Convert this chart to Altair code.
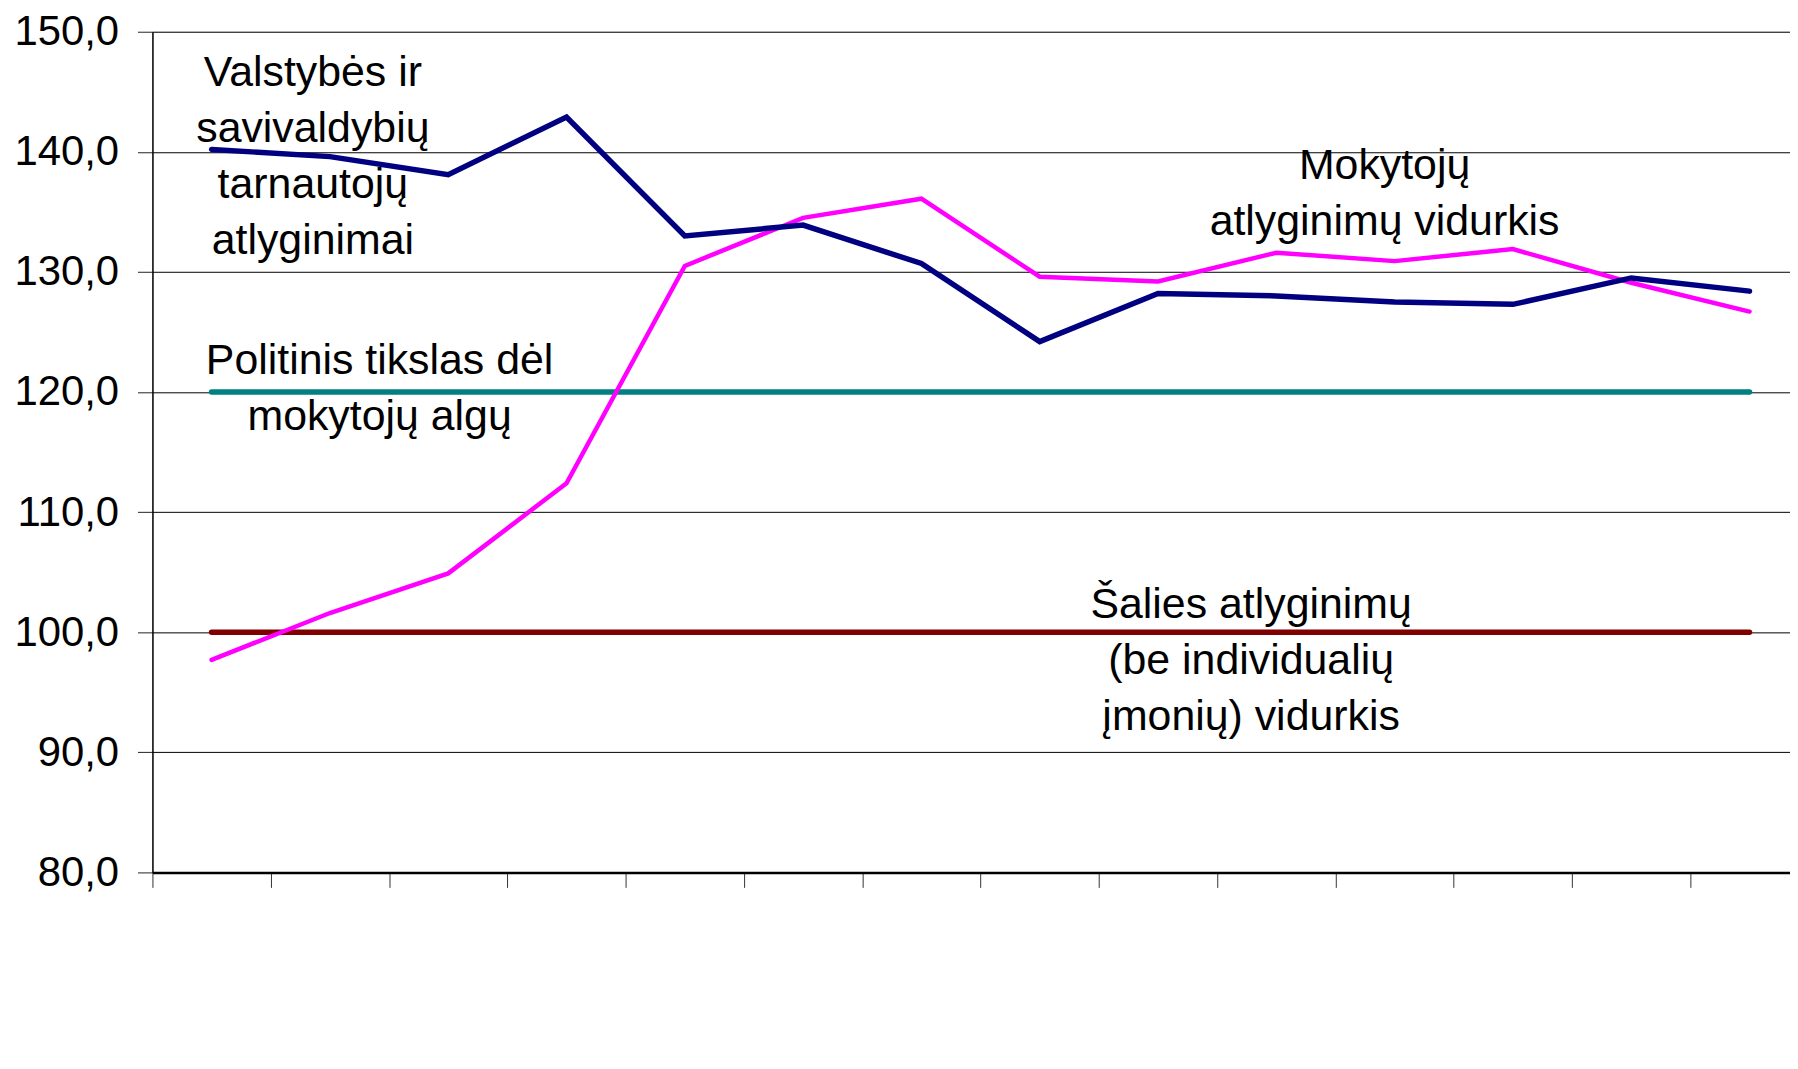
import altair as alt
import pandas as pd

# category index (14 periods, unlabeled in the reference)
periods = [1, 2, 3, 4, 5, 6, 7, 8, 9, 10, 11, 12, 13, 14]
valstybes = [140.2, 139.6, 138.1, 142.9, 133.0, 133.9, 130.7, 124.2, 128.2, 128.0, 127.5, 127.3, 129.5, 128.4]
mokytoju = [97.7, 101.6, 104.9, 112.4, 130.5, 134.5, 136.1, 129.6, 129.2, 131.6, 130.9, 131.9, 129.1, 126.7]
tikslas = [120.0, 120.0, 120.0, 120.0, 120.0, 120.0, 120.0, 120.0, 120.0, 120.0, 120.0, 120.0, 120.0, 120.0]
salies = [100.0, 100.0, 100.0, 100.0, 100.0, 100.0, 100.0, 100.0, 100.0, 100.0, 100.0, 100.0, 100.0, 100.0]

series_names = ["Šalies", "Tikslas", "Mokytojų", "Valstybės"]
series_colors = ["#800000", "#008080", "#FF00FF", "#000080"]
series_widths = [5.5, 5.5, 4.5, 5.5]

ann_text = [
    "Valstybės ir\nsavivaldybių\ntarnautojų\natlyginimai",
    "Politinis tikslas dėl\nmokytojų algų",
    "Mokytojų\natlyginimų vidurkis",
    "Šalies atlyginimų\n(be individualių\nįmonių) vidurkis",
]
ann_x = [1.356, 1.92, 10.415, 9.287]
ann_y = [145.44, 121.5, 137.73, 101.15]

rows = []
for name, vals in zip(series_names, [salies, tikslas, mokytoju, valstybes]):
    for p, v in zip(periods, vals):
        rows.append({"series": name, "period": p, "value": v})
df = pd.DataFrame(rows)
ann = pd.DataFrame({"text": ann_text, "x": ann_x, "y": ann_y})

W = 1644
H = 844
XMAX = 13.842

xscale = alt.Scale(domain=[0, XMAX], nice=False, zero=False)
yscale = alt.Scale(domain=[80, 150], nice=False, zero=False)

xaxis = alt.Axis(values=list(range(0, 14)), labels=False, title=None, grid=False,
                 tickColor="#333333", tickSize=15, tickWidth=1,
                 domainColor="#000000", domainWidth=2.5)
yaxis = alt.Axis(values=[80, 90, 100, 110, 120, 130, 140, 150], title=None,
                 labelExpr="replace(format(datum.value, '.1f'), '.', ',')",
                 labelFont="Liberation Sans", labelFontSize=42, labelColor="#000000",
                 labelPadding=19, tickSize=15, tickColor="#222222", tickWidth=1,
                 domainColor="#000000", domainWidth=1.5,
                 grid=True, gridColor="#000000", gridWidth=1)

base = alt.Chart(df).transform_calculate(xpos="datum.period - 0.5")

layers = []
for name, col, sw in zip(series_names, series_colors, series_widths):
    layers.append(
        base.transform_filter(alt.datum.series == name)
        .mark_line(color=col, strokeWidth=sw, strokeCap="round", strokeJoin="miter")
        .encode(x=alt.X("xpos:Q", scale=xscale, axis=xaxis),
                y=alt.Y("value:Q", scale=yscale, axis=yaxis),
                order="period:Q")
    )

text_layer = alt.Chart(ann).mark_text(
    font="Liberation Sans", fontSize=43, color="#000000", align="center",
    baseline="alphabetic", lineBreak="\n", lineHeight=56,
).encode(x=alt.X("x:Q", scale=xscale, axis=xaxis),
         y=alt.Y("y:Q", scale=yscale, axis=yaxis), text="text:N")

chart = alt.layer(*layers, text_layer).properties(
    width=W, height=H,
    autosize=alt.AutoSizeParams(type="none"),
    padding={"left": 145, "top": 22, "right": 0, "bottom": 60},
).configure_view(strokeWidth=0, stroke="transparent").configure(background="#ffffff")

chart.save("out.html", embed_options={"renderer": "svg", "actions": False})
